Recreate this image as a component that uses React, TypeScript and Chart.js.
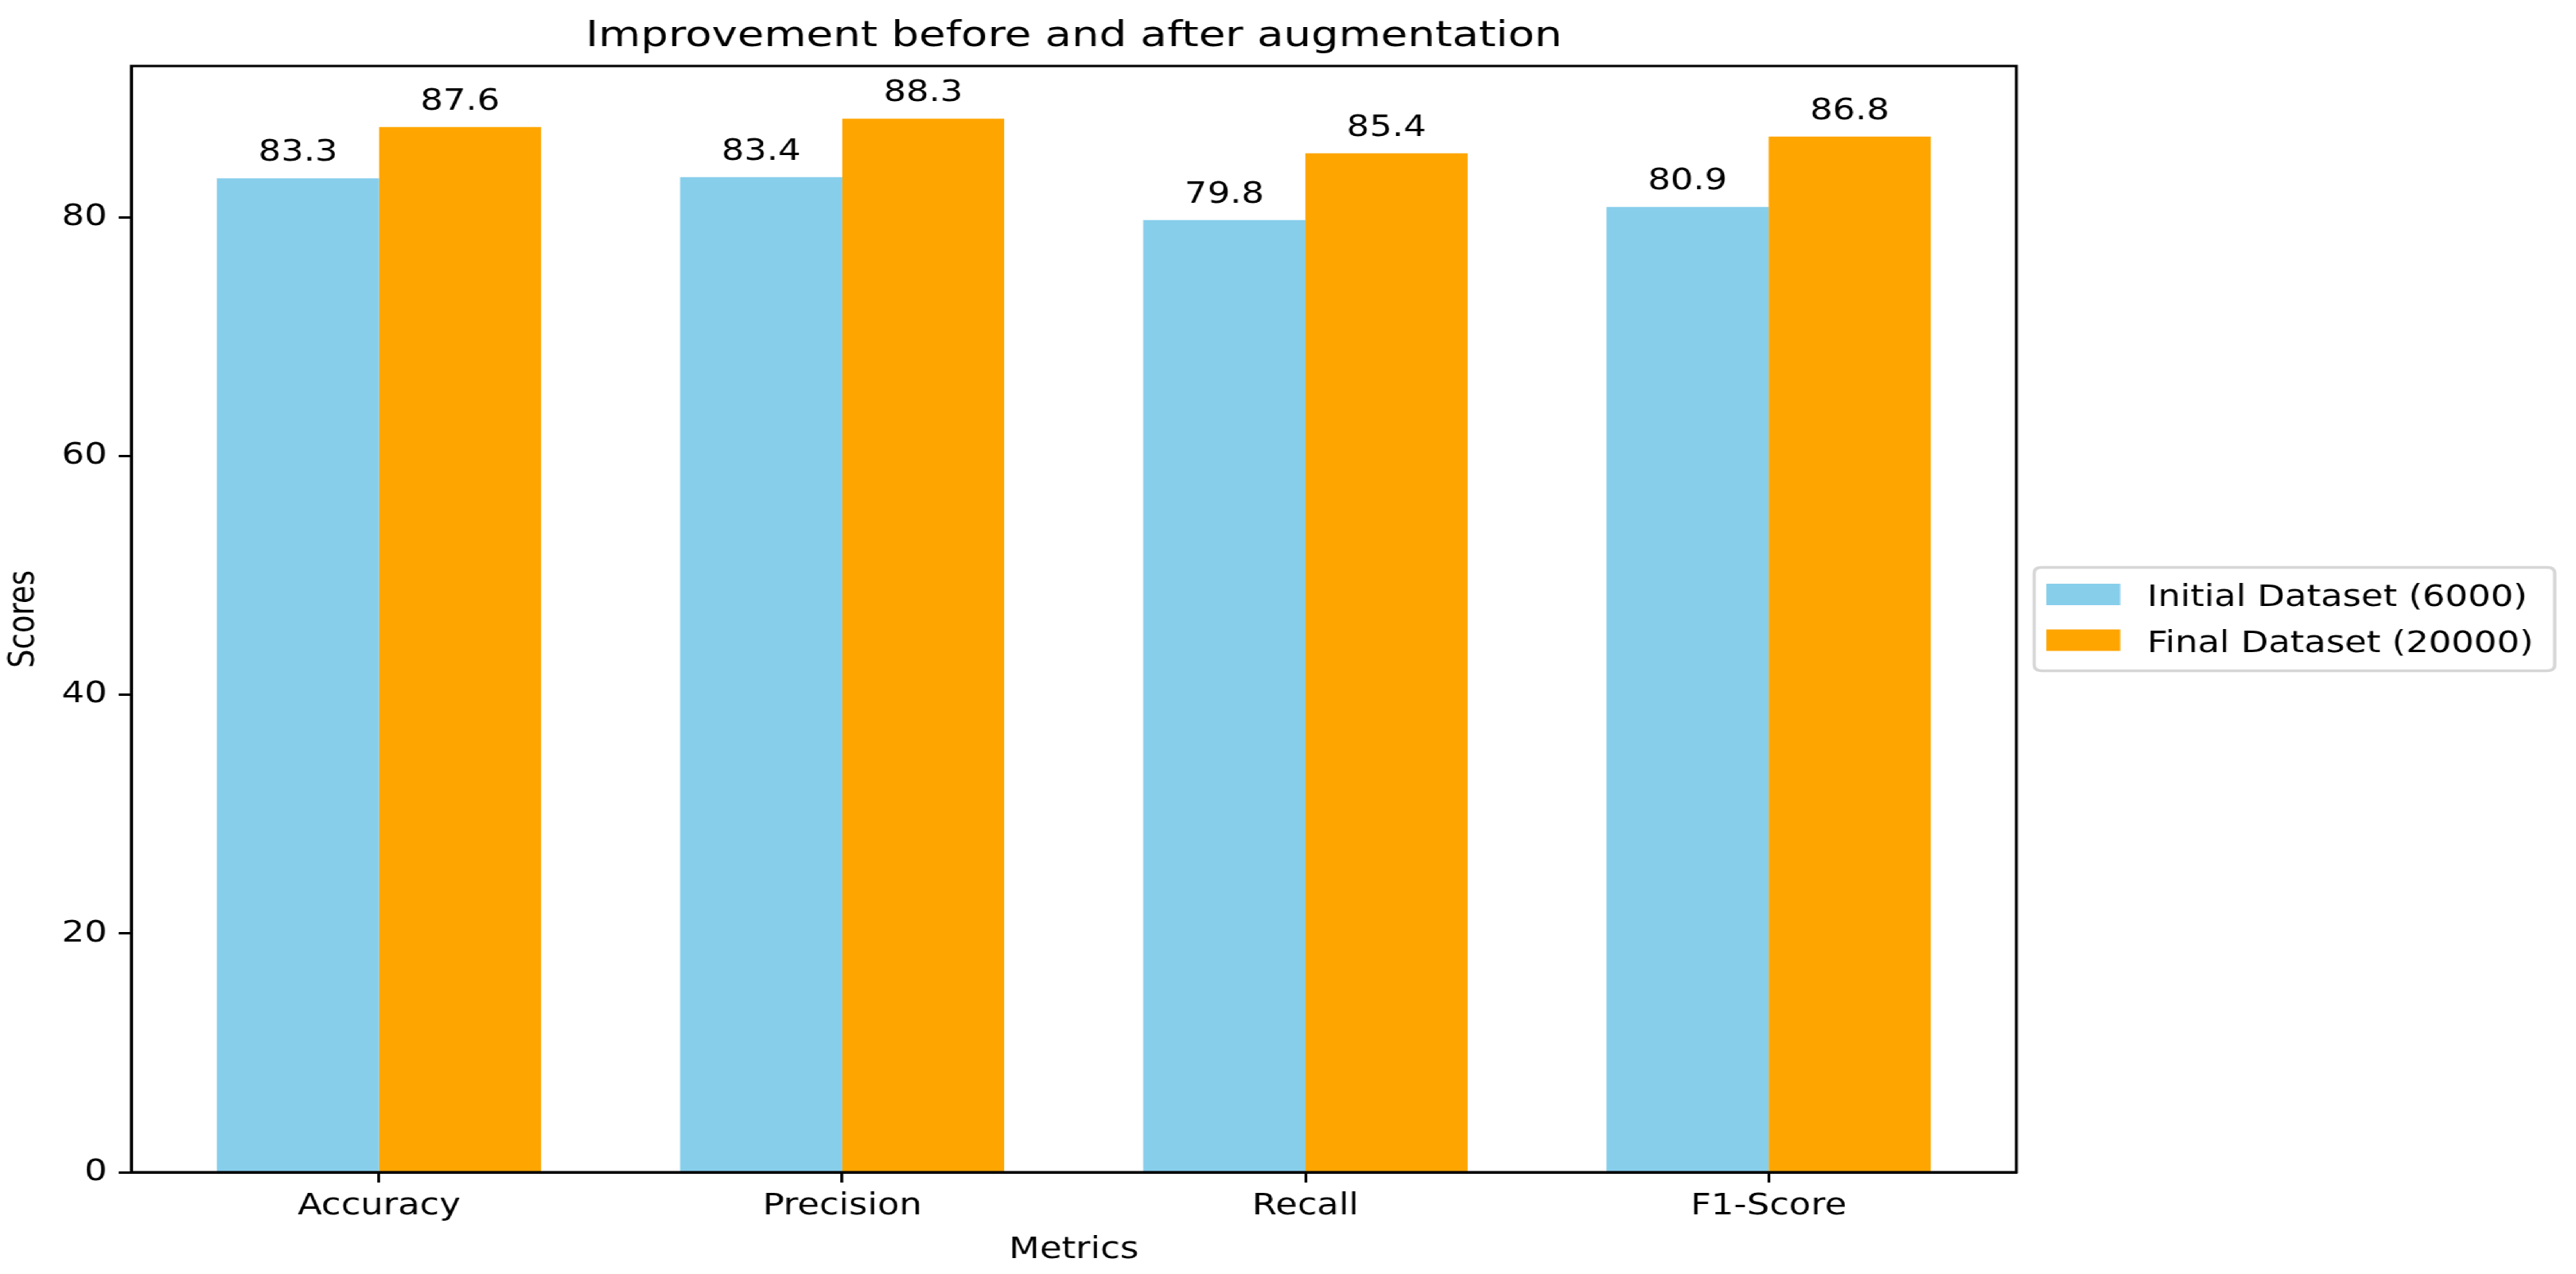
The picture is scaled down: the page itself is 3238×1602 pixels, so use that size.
import React, { useEffect, useRef } from 'react';
import { Chart, registerables } from 'chart.js';

Chart.register(...registerables);

// ---- data ----
const categories = ['Accuracy', 'Precision', 'Recall', 'F1-Score'];
const initialScores = [83.3, 83.4, 79.8, 80.9];
const finalScores = [87.6, 88.3, 85.4, 86.8];
const seriesLabels = ['Initial Dataset (6000)', 'Final Dataset (20000)'];
const seriesColors = ['#87CEEB', '#FFA500'];
const yTicks = [0, 20, 40, 60, 80];
const chartTitle = 'Improvement before and after augmentation';
const xTitle = 'Metrics';
const yTitle = 'Scores';

// ---- layout ----
const PAGE_W = 3238;
const PAGE_H = 1602;
const BASE_W = 2670;
const STRETCH = PAGE_W / BASE_W;
const FAMILY = '"DejaVu Sans", "Liberation Sans", sans-serif';
const FS = 37;

const yMax = Math.max(...initialScores, ...finalScores) * 1.05;

const valueLabelPlugin = {
  id: 'valueLabels',
  afterDatasetsDraw(chart: any) {
    const { ctx } = chart;
    ctx.save();
    ctx.font = `${FS}px ${FAMILY}`;
    ctx.fillStyle = '#000';
    ctx.textAlign = 'center';
    ctx.textBaseline = 'alphabetic';
    chart.data.datasets.forEach((ds: any, di: number) => {
      const meta = chart.getDatasetMeta(di);
      meta.data.forEach((el: any, i: number) => {
        const v = ds.data[i].y;
        ctx.fillText(v.toFixed(1), el.x, el.y - 22);
      });
    });
    ctx.restore();
  },
};

const framePlugin = {
  id: 'frame',
  afterDatasetsDraw(chart: any) {
    const { ctx, chartArea: a } = chart;
    ctx.save();
    ctx.strokeStyle = '#000';
    ctx.lineWidth = 3;
    ctx.lineJoin = 'miter';
    ctx.strokeRect(a.left, a.top, a.right - a.left, a.bottom - a.top);
    ctx.restore();
  },
};

const legendBoxPlugin = {
  id: 'legendBox',
  afterDraw(chart: any) {
    const { ctx, chartArea: a } = chart;
    ctx.save();
    ctx.font = `${FS}px ${FAMILY}`;
    const labels: string[] = chart.data.datasets.map((d: any) => d.label);
    const maxW = Math.max(...labels.map((l) => ctx.measureText(l).width));
    const left = a.right + 18.5;
    const cy = (a.top + a.bottom) / 2;
    const boxH = 130;
    const top = cy - boxH / 2;
    const swX = left + 12.5;
    const swW = 76.6;
    const swH = 27;
    const textX = swX + swW + 28;
    const boxW = textX + maxW + 22 - left;
    const r = 7.4;
    ctx.beginPath();
    ctx.moveTo(left + r, top);
    ctx.lineTo(left + boxW - r, top);
    ctx.quadraticCurveTo(left + boxW, top, left + boxW, top + r);
    ctx.lineTo(left + boxW, top + boxH - r);
    ctx.quadraticCurveTo(left + boxW, top + boxH, left + boxW - r, top + boxH);
    ctx.lineTo(left + r, top + boxH);
    ctx.quadraticCurveTo(left, top + boxH, left, top + boxH - r);
    ctx.lineTo(left, top + r);
    ctx.quadraticCurveTo(left, top, left + r, top);
    ctx.closePath();
    ctx.fillStyle = 'rgba(255,255,255,0.8)';
    ctx.fill();
    ctx.strokeStyle = 'rgba(204,204,204,0.8)';
    ctx.lineWidth = 3.5;
    ctx.stroke();
    chart.data.datasets.forEach((ds: any, i: number) => {
      const rc = top + 34 + i * 57.5;
      ctx.fillStyle = ds.backgroundColor;
      ctx.fillRect(swX, rc - swH / 2, swW, swH);
      ctx.fillStyle = '#000';
      ctx.textAlign = 'left';
      ctx.textBaseline = 'alphabetic';
      ctx.fillText(ds.label, textX, rc + 14.5);
    });
    ctx.restore();
  },
};

export default function App() {
  const canvasRef = useRef<HTMLCanvasElement>(null);

  useEffect(() => {
    const canvas = canvasRef.current;
    if (!canvas) return;
    const tickFont = { family: FAMILY, size: FS, lineHeight: 1.2 };
    const chart = new Chart(canvas, {
      type: 'bar',
      data: {
        datasets: [
          {
            label: seriesLabels[0],
            data: initialScores.map((v, i) => ({ x: i, y: v })),
            backgroundColor: seriesColors[0],
            borderWidth: 0,
          },
          {
            label: seriesLabels[1],
            data: finalScores.map((v, i) => ({ x: i, y: v })),
            backgroundColor: seriesColors[1],
            borderWidth: 0,
          },
        ],
      },
      options: {
        animation: false,
        responsive: true,
        maintainAspectRatio: false,
        devicePixelRatio: 1,
        datasets: { bar: { categoryPercentage: 0.7, barPercentage: 1.0 } },
        layout: { padding: { left: 0, right: BASE_W - 2090, top: 0, bottom: 0 } },
        plugins: {
          legend: { display: false },
          tooltip: { enabled: false },
          title: {
            display: true,
            text: chartTitle,
            fullSize: false,
            color: '#000',
            font: { family: FAMILY, size: 45, weight: 'normal', lineHeight: 1.2 },
            padding: { top: 19, bottom: 10 },
          },
        },
        scales: {
          x: {
            type: 'linear',
            min: -0.535,
            max: categories.length - 1 + 0.535,
            offset: false,
            grid: {
              display: true,
              drawOnChartArea: false,
              drawTicks: true,
              tickLength: 13,
              tickWidth: 3,
              tickColor: '#000',
              offset: false,
            },
            border: { display: true, color: '#000', width: 3 },
            ticks: {
              color: '#000',
              font: tickFont,
              padding: 8,
              maxRotation: 0,
              autoSkip: false,
              callback: (v: any) => categories[Math.round(Number(v))] ?? '',
            },
            afterBuildTicks: (s: any) => {
              s.ticks = categories.map((_, i) => ({ value: i }));
            },
            afterFit: (s: any) => {
              s.height = PAGE_H - 1474;
            },
            title: {
              display: true,
              text: xTitle,
              color: '#000',
              font: tickFont,
              padding: { top: 0, bottom: 7 },
            },
          },
          y: {
            type: 'linear',
            min: 0,
            max: yMax,
            grid: {
              display: true,
              drawOnChartArea: false,
              drawTicks: true,
              tickLength: 13,
              tickWidth: 3,
              tickColor: '#000',
            },
            border: { display: true, color: '#000', width: 3 },
            ticks: {
              color: '#000',
              font: tickFont,
              padding: 12,
              callback: (v: any) => String(v),
            },
            afterBuildTicks: (s: any) => {
              s.ticks = yTicks.map((v) => ({ value: v }));
            },
            afterFit: (s: any) => {
              s.width = 136;
            },
            title: {
              display: true,
              text: yTitle,
              color: '#000',
              font: tickFont,
              padding: { top: 3, bottom: 0 },
            },
          },
        },
      } as any,
      plugins: [valueLabelPlugin, framePlugin, legendBoxPlugin],
    });
    return () => chart.destroy();
  }, []);

  return (
    <div
      style={{
        position: 'absolute',
        left: 0,
        top: 0,
        width: BASE_W,
        height: PAGE_H,
        transform: `scaleX(${STRETCH})`,
        transformOrigin: '0 0',
        background: '#fff',
      }}
    >
      <canvas ref={canvasRef} />
    </div>
  );
}
